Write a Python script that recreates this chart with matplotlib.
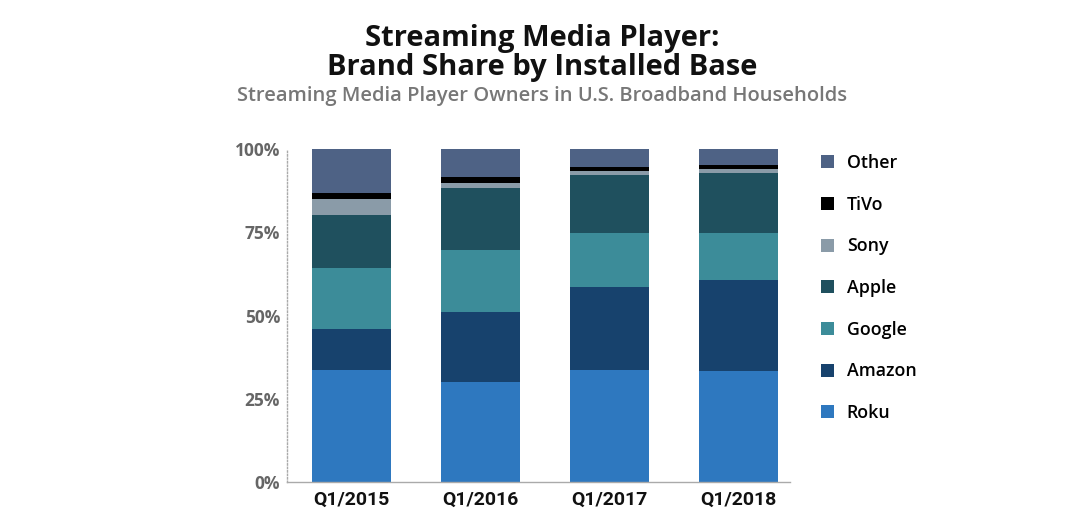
import matplotlib
matplotlib.use("Agg")
import matplotlib.pyplot as plt
import numpy as np

categories = ["Q1/2015", "Q1/2016", "Q1/2017", "Q1/2018"]
brands = ["Roku", "Amazon", "Google", "Apple", "Sony", "TiVo", "Other"]
roku   = [33.6, 30.0, 33.6, 33.3]
amazon = [12.3, 21.0, 25.0, 27.4]
google = [18.4, 18.7, 16.2, 14.1]
apple  = [15.9, 18.6, 17.4, 18.0]
sony   = [4.8, 1.5, 1.2, 1.2]
tivo   = [1.8, 1.8, 1.2, 1.2]
other  = [13.2, 8.4, 5.4, 4.8]
yticks = [0, 25, 50, 75, 100]
ytick_labels = ["0%", "25%", "50%", "75%", "100%"]

colors = ["#2E78BF", "#17426D", "#3C8C99", "#1F505E", "#8A9BA8", "#000000", "#4E6285"]
series = [roku, amazon, google, apple, sony, tivo, other]

fig = plt.figure(figsize=(10.84, 5.2), dpi=100)
ax = fig.add_axes([287/1084, 1-482/520, (790-287)/1084, (482-149)/520])

x = np.arange(len(categories))
bottom = np.zeros(len(categories))
handles = []
for name, vals, c in zip(brands, series, colors):
    h = ax.bar(x, vals, width=0.61, bottom=bottom, color=c, label=name, linewidth=0)
    handles.append(h)
    bottom += np.array(vals)

ax.set_xlim(-0.5, 3.4)
ax.set_ylim(0, 100)
ax.set_yticks(yticks)
ax.set_yticklabels(ytick_labels, fontsize=12.5, fontweight="bold", color="#666666", family="Open Sans")
ax.set_xticks(x)
ax.set_xticklabels(categories, fontsize=14, fontweight="bold", color="#111111", family="Roboto")
ax.tick_params(axis="y", length=0, pad=5)
ax.tick_params(axis="x", length=0, pad=6)
for s in ["top", "right"]:
    ax.spines[s].set_visible(False)
ax.spines["left"].set_linestyle((0, (1, 1.5)))
ax.spines["left"].set_color("#aaaaaa")
ax.spines["left"].set_linewidth(1)
ax.spines["bottom"].set_color("#aaaaaa")
ax.spines["bottom"].set_linewidth(1)

leg = fig.legend(handles[::-1], brands[::-1], loc="upper left",
                 bbox_to_anchor=(805/1084, 1-138/520), frameon=False,
                 handlelength=0.75, handleheight=0.75, handletextpad=0.7,
                 labelspacing=1.33, prop={"family": "Open Sans", "weight": "semibold", "size": 12.8})

fig.text(0.5, 1-53/520, "Streaming Media Player:\nBrand Share by Installed Base", ha="center", va="center",
         fontsize=21, fontweight="bold", family="Open Sans", color="#111111", linespacing=1.0)
fig.text(0.5, 1-96/520, "Streaming Media Player Owners in U.S. Broadband Households", ha="center", va="center",
         fontsize=14.5, fontweight="semibold", family="Open Sans", color="#777777")

fig.savefig("out.png", dpi=100)
